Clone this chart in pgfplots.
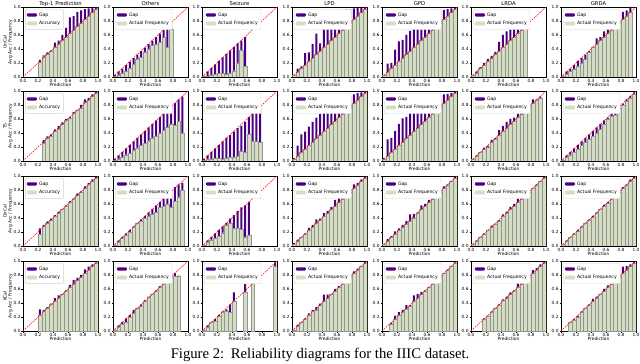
\documentclass[border=0pt]{standalone}
\usepackage{pgfplots}
\pgfplotsset{compat=1.18}
\usepackage{pgfplotstable}
\usepackage{fontspec}
\setmainfont{DejaVu Sans}
\newfontfamily\capfont{Liberation Serif}
\definecolor{gapc}{HTML}{4B0082}
\definecolor{accc}{HTML}{D4DEC0}
\newcommand{\tickf}{\fontsize{4.3}{5}\selectfont}
\newcommand{\labf}{\fontsize{4.4}{5}\selectfont}
\newcommand{\legf}{\fontsize{4.6}{5}\selectfont}
\newcommand{\titf}{\fontsize{5.3}{6}\selectfont}

% ---------- UnCal ----------
\pgfplotstableread{
x g t
0.225 0.21 0.245
0.275 0.29 0.31
0.325 0.33 0.35
0.375 0.37 0.38
0.425 0.42 0.49
0.475 0.47 0.52
0.525 0.52 0.60
0.575 0.57 0.70
0.625 0.62 0.85
0.675 0.67 0.87
0.725 0.72 0.93
0.775 0.77 0.95
0.825 0.82 0.97
0.875 0.87 0.98
0.925 0.92 0.99
0.975 0.97 1.00
}\rUa
\pgfplotstableread{
x g t
0.025 0.01 0.03
0.075 0.03 0.08
0.125 0.06 0.12
0.175 0.08 0.17
0.225 0.12 0.22
0.275 0.18 0.27
0.325 0.26 0.32
0.375 0.28 0.37
0.425 0.36 0.42
0.475 0.40 0.47
0.525 0.45 0.52
0.575 0.47 0.57
0.625 0.50 0.62
0.675 0.57 0.67
0.725 0.42 0.72
0.775 0.68 0.77
}\rUb
\pgfplotstableread{
x g t
0.025 0.005 0.02
0.075 0.01 0.08
0.125 0.03 0.13
0.175 0.04 0.18
0.225 0.05 0.23
0.275 0.05 0.28
0.325 0.04 0.33
0.375 0.06 0.38
0.425 0.09 0.43
0.475 0.20 0.48
0.525 0.38 0.52
0.575 0.15 0.57
}\rUc
\pgfplotstableread{
x g t
0.025 0.02 0.03
0.075 0.07 0.12
0.125 0.12 0.15
0.175 0.17 0.34
0.225 0.22 0.35
0.275 0.27 0.47
0.325 0.32 0.62
0.375 0.37 0.48
0.425 0.42 0.76
0.475 0.47 0.86
0.525 0.52 0.91
0.575 0.57 0.88
0.625 0.62 0.93
0.675 0.67 0.96
0.725 0.72 0.97
0.775 0.77 0.97
0.825 0.82 0.98
0.875 0.87 0.99
0.925 0.92 0.99
0.975 0.97 1.00
}\rUd
\pgfplotstableread{
x g t
0.025 0.02 0.03
0.075 0.07 0.19
0.125 0.12 0.20
0.175 0.17 0.39
0.225 0.22 0.51
0.275 0.27 0.53
0.325 0.32 0.60
0.375 0.37 0.66
0.425 0.42 0.73
0.475 0.47 0.80
0.525 0.52 0.83
0.575 0.57 0.88
0.625 0.62 0.92
0.675 0.67 0.94
0.725 0.72 0.95
0.775 0.77 0.95
0.825 0.82 0.96
0.875 0.87 0.97
0.925 0.92 0.98
0.975 0.97 0.99
}\rUe
\pgfplotstableread{
x g t
0.025 0.02 0.03
0.075 0.05 0.08
0.125 0.12 0.14
0.175 0.17 0.20
0.225 0.22 0.26
0.275 0.27 0.30
0.325 0.32 0.36
0.375 0.37 0.50
0.425 0.42 0.60
0.475 0.47 0.65
0.525 0.52 0.73
0.575 0.57 0.80
0.625 0.62 0.88
0.675 0.67 0.88
0.725 0.72 0.74
}\rUf
\pgfplotstableread{
x g t
0.025 0.01 0.02
0.075 0.04 0.08
0.125 0.08 0.12
0.175 0.11 0.17
0.225 0.15 0.23
0.275 0.20 0.27
0.325 0.25 0.32
0.375 0.35 0.37
0.425 0.42 0.43
0.475 0.47 0.55
0.525 0.52 0.57
0.575 0.57 0.65
0.625 0.62 0.78
0.675 0.67 0.80
0.725 0.72 0.84
0.775 0.77 0.80
0.825 0.82 0.93
0.875 0.87 0.95
0.925 0.92 1.00
}\rUg
% ---------- TS ----------
\pgfplotstableread{
x g t
0.275 0.25 0.30
0.325 0.33 0.35
0.375 0.36 0.38
0.425 0.42 0.45
0.475 0.46 0.50
0.525 0.52 0.55
0.575 0.58 0.60
0.625 0.61 0.63
0.675 0.68 0.70
0.725 0.72 0.73
0.775 0.76 0.80
0.825 0.84 0.88
0.875 0.87 0.90
0.925 0.93 0.95
0.975 0.97 0.99
}\rTa
\pgfplotstableread{
x g t
0.025 0.01 0.03
0.075 0.03 0.08
0.125 0.06 0.13
0.175 0.09 0.18
0.225 0.11 0.23
0.275 0.15 0.28
0.325 0.19 0.33
0.375 0.22 0.38
0.425 0.25 0.43
0.475 0.29 0.48
0.525 0.33 0.53
0.575 0.36 0.58
0.625 0.40 0.63
0.675 0.44 0.68
0.725 0.48 0.73
0.775 0.52 0.78
0.825 0.51 0.83
0.875 0.57 0.88
0.925 0.40 0.92
}\rTb
\pgfplotstableread{
x g t
0.025 0.005 0.03
0.075 0.02 0.08
0.125 0.03 0.13
0.175 0.04 0.18
0.225 0.04 0.23
0.275 0.03 0.28
0.325 0.04 0.33
0.375 0.05 0.37
0.425 0.06 0.42
0.475 0.07 0.47
0.525 0.14 0.50
0.575 0.13 0.56
0.625 0.38 0.63
0.675 0.28 0.70
0.725 0.28 0.72
0.775 0.27 0.77
}\rTc
\pgfplotstableread{
x g t
0.025 0.02 0.04
0.075 0.07 0.22
0.125 0.12 0.38
0.175 0.17 0.42
0.225 0.22 0.49
0.275 0.27 0.56
0.325 0.32 0.62
0.375 0.37 0.67
0.425 0.42 0.73
0.475 0.47 0.79
0.525 0.52 0.81
0.575 0.57 0.85
0.625 0.62 0.87
0.675 0.67 0.87
0.725 0.72 0.90
0.775 0.77 0.92
0.825 0.82 0.95
0.875 0.87 0.97
0.925 0.92 0.98
0.975 0.97 1.00
}\rTd
\pgfplotstableread{
x g t
0.025 0.02 0.04
0.075 0.07 0.31
0.125 0.12 0.33
0.175 0.17 0.43
0.225 0.22 0.53
0.275 0.27 0.61
0.325 0.32 0.63
0.375 0.37 0.70
0.425 0.42 0.78
0.475 0.47 0.77
0.525 0.52 0.80
0.575 0.57 0.82
0.625 0.62 0.90
0.675 0.67 0.90
0.725 0.72 0.92
0.775 0.77 0.94
0.825 0.82 0.95
0.875 0.87 0.96
0.925 0.92 0.97
0.975 0.97 0.99
}\rTe
\pgfplotstableread{
x g t
0.025 0.02 0.03
0.075 0.07 0.08
0.125 0.12 0.13
0.175 0.17 0.19
0.225 0.20 0.22
0.275 0.27 0.30
0.325 0.31 0.33
0.375 0.37 0.44
0.425 0.42 0.50
0.475 0.47 0.56
0.525 0.52 0.60
0.575 0.57 0.62
0.625 0.62 0.68
0.675 0.67 0.72
0.725 0.72 0.74
0.775 0.77 0.80
0.825 0.82 0.88
0.875 0.87 0.88
0.925 0.90 0.92
}\rTf
\pgfplotstableread{
x g t
0.025 0.01 0.02
0.075 0.05 0.08
0.125 0.09 0.13
0.175 0.12 0.18
0.225 0.17 0.23
0.275 0.22 0.28
0.325 0.27 0.33
0.375 0.31 0.38
0.425 0.35 0.43
0.475 0.40 0.48
0.525 0.45 0.53
0.575 0.52 0.58
0.625 0.60 0.62
0.675 0.64 0.67
0.725 0.66 0.72
0.775 0.75 0.77
0.825 0.80 0.82
0.875 0.85 0.88
0.925 0.90 0.93
0.975 0.96 0.98
}\rTg
% ---------- DirCal ----------
\pgfplotstableread{
x g t
0.225 0.17 0.25
0.275 0.28 0.30
0.325 0.33 0.35
0.375 0.37 0.39
0.425 0.42 0.44
0.475 0.47 0.49
0.525 0.52 0.53
0.575 0.57 0.58
0.625 0.63 0.64
0.675 0.67 0.68
0.725 0.72 0.75
0.775 0.77 0.78
0.825 0.82 0.85
0.875 0.88 0.90
0.925 0.93 0.95
0.975 0.97 0.99
}\rDa
\pgfplotstableread{
x g t
0.025 0.01 0.02
0.075 0.06 0.08
0.125 0.11 0.13
0.175 0.16 0.18
0.225 0.20 0.23
0.275 0.27 0.28
0.325 0.32 0.33
0.375 0.35 0.38
0.425 0.40 0.43
0.475 0.43 0.48
0.525 0.45 0.53
0.575 0.48 0.58
0.625 0.55 0.63
0.675 0.57 0.69
0.725 0.60 0.73
0.775 0.55 0.78
0.825 0.64 0.84
0.875 0.70 0.88
0.925 0.80 0.90
}\rDb
\pgfplotstableread{
x g t
0.025 0.01 0.02
0.075 0.06 0.08
0.125 0.09 0.13
0.175 0.11 0.18
0.225 0.14 0.23
0.275 0.19 0.28
0.325 0.30 0.33
0.375 0.33 0.39
0.425 0.25 0.44
0.475 0.26 0.50
0.525 0.24 0.55
0.575 0.13 0.58
0.625 0.16 0.63
}\rDc
\pgfplotstableread{
x g t
0.025 0.02 0.04
0.075 0.07 0.09
0.125 0.12 0.13
0.175 0.17 0.18
0.225 0.22 0.26
0.275 0.27 0.30
0.325 0.32 0.38
0.375 0.37 0.39
0.425 0.42 0.47
0.475 0.47 0.50
0.525 0.52 0.56
0.575 0.57 0.66
0.625 0.62 0.76
0.675 0.67 0.80
0.725 0.72 0.77
0.775 0.77 0.82
0.825 0.82 0.88
0.875 0.87 0.90
0.925 0.92 0.95
0.975 0.97 0.99
}\rDd
\pgfplotstableread{
x g t
0.025 0.02 0.03
0.075 0.07 0.10
0.125 0.12 0.14
0.175 0.17 0.21
0.225 0.22 0.25
0.275 0.27 0.30
0.325 0.31 0.36
0.375 0.35 0.45
0.425 0.40 0.46
0.475 0.47 0.48
0.525 0.52 0.58
0.575 0.57 0.60
0.625 0.62 0.66
0.675 0.67 0.70
0.725 0.72 0.75
0.775 0.77 0.80
0.825 0.82 0.85
0.875 0.87 0.88
0.925 0.92 0.93
0.975 0.97 0.99
}\rDe
\pgfplotstableread{
x g t
0.025 0.02 0.03
0.075 0.07 0.08
0.125 0.12 0.13
0.175 0.17 0.18
0.225 0.22 0.23
0.275 0.27 0.29
0.325 0.31 0.32
0.375 0.36 0.37
0.425 0.43 0.45
0.475 0.47 0.49
0.525 0.52 0.56
0.575 0.57 0.60
0.625 0.62 0.68
0.675 0.67 0.75
0.725 0.72 0.78
0.775 0.77 0.79
0.825 0.82 0.83
0.875 0.87 0.88
0.925 0.92 0.93
0.975 0.97 0.99
}\rDf
\pgfplotstableread{
x g t
0.025 0.02 0.03
0.075 0.07 0.08
0.125 0.12 0.13
0.175 0.17 0.18
0.225 0.21 0.23
0.275 0.27 0.28
0.325 0.32 0.33
0.375 0.37 0.38
0.425 0.41 0.43
0.475 0.47 0.48
0.525 0.52 0.53
0.575 0.57 0.59
0.625 0.61 0.63
0.675 0.67 0.68
0.725 0.72 0.73
0.775 0.77 0.78
0.825 0.82 0.84
0.875 0.87 0.88
0.925 0.92 0.95
0.975 0.97 0.99
}\rDg
% ---------- KCal ----------
\pgfplotstableread{
x g t
0.225 0.23 0.31
0.275 0.28 0.30
0.325 0.33 0.34
0.375 0.38 0.39
0.425 0.42 0.47
0.475 0.47 0.51
0.525 0.52 0.53
0.575 0.57 0.58
0.625 0.62 0.66
0.675 0.67 0.73
0.725 0.72 0.76
0.775 0.77 0.80
0.825 0.82 0.88
0.875 0.87 0.92
0.925 0.92 0.95
0.975 0.97 0.98
}\rKa
\pgfplotstableread{
x g t
0.025 0.01 0.02
0.075 0.06 0.08
0.125 0.10 0.13
0.175 0.12 0.18
0.225 0.20 0.23
0.275 0.25 0.30
0.325 0.32 0.33
0.375 0.36 0.38
0.425 0.43 0.44
0.475 0.48 0.49
0.525 0.52 0.53
0.575 0.57 0.58
0.625 0.63 0.64
0.675 0.67 0.68
0.725 0.72 0.73
0.775 0.77 0.84
0.825 0.78 0.83
0.875 0.79 0.79
}\rKb
\pgfplotstableread{
x g t
0.025 0.01 0.02
0.075 0.06 0.08
0.125 0.12 0.13
0.175 0.14 0.17
0.225 0.21 0.23
0.275 0.27 0.28
0.325 0.28 0.31
0.375 0.27 0.38
0.425 0.43 0.55
0.575 0.56 0.67
0.675 0.70 0.72
0.975 0.93 0.98
}\rKc
\pgfplotstableread{
x g t
0.025 0.01 0.02
0.075 0.07 0.09
0.125 0.12 0.13
0.175 0.17 0.18
0.225 0.23 0.25
0.275 0.28 0.30
0.325 0.30 0.34
0.375 0.37 0.39
0.425 0.42 0.52
0.475 0.47 0.52
0.525 0.52 0.53
0.575 0.57 0.60
0.625 0.62 0.64
0.675 0.67 0.69
0.725 0.72 0.75
0.775 0.77 0.80
0.825 0.82 0.85
0.875 0.87 0.89
0.925 0.92 0.93
0.975 0.97 0.99
}\rKd
\pgfplotstableread{
x g t
0.125 0.10 0.12
0.175 0.17 0.22
0.225 0.22 0.27
0.275 0.27 0.30
0.325 0.31 0.37
0.375 0.35 0.37
0.425 0.42 0.51
0.475 0.47 0.53
0.525 0.52 0.56
0.575 0.57 0.58
0.625 0.62 0.63
0.675 0.67 0.68
0.725 0.72 0.73
0.775 0.77 0.78
0.825 0.82 0.83
0.875 0.87 0.88
0.925 0.92 0.93
0.975 0.97 0.98
}\rKe
\pgfplotstableread{
x g t
0.175 0.17 0.18
0.225 0.21 0.22
0.275 0.27 0.28
0.325 0.32 0.33
0.375 0.37 0.38
0.425 0.44 0.45
0.475 0.47 0.49
0.525 0.52 0.55
0.575 0.57 0.58
0.625 0.62 0.70
0.675 0.67 0.75
0.725 0.72 0.80
0.775 0.77 0.82
0.825 0.82 0.87
0.875 0.87 0.90
0.925 0.92 0.95
0.975 0.97 0.99
}\rKf
\pgfplotstableread{
x g t
0.125 0.12 0.13
0.175 0.16 0.17
0.225 0.20 0.22
0.275 0.27 0.28
0.325 0.32 0.33
0.375 0.37 0.38
0.425 0.42 0.46
0.475 0.47 0.49
0.525 0.52 0.53
0.575 0.57 0.60
0.625 0.62 0.65
0.675 0.67 0.68
0.725 0.72 0.76
0.775 0.77 0.79
0.825 0.82 0.92
0.875 0.87 0.93
0.925 0.92 0.95
0.975 0.97 0.99
}\rKg

\pgfplotsset{
 cellstyle/.style={scale only axis, width=75pt, height=70pt, anchor=south west,
   xmin=0,xmax=1,ymin=0,ymax=1,
   xtick={0,0.2,0.4,0.6,0.8,1}, ytick={0,0.2,0.4,0.6,0.8,1},
   xticklabels={0.0,0.2,0.4,0.6,0.8,1.0}, yticklabels={0.0,0.2,0.4,0.6,0.8,1.0},
   tick label style={font=\tickf},
   xticklabel style={inner sep=0.8pt},
   yticklabel style={inner sep=0.8pt},
   tick pos=left, tick align=outside, major tick length=1.5pt,
   every tick/.style={black, line width=0.4pt},
   axis line style={line width=0.5pt},
   xlabel={Prediction}, xlabel style={font=\labf, inner sep=0pt, yshift=0.8pt},
   ylabel style={font=\labf, align=center, inner sep=0pt},
   legend style={at={(0.03,0.97)}, anchor=north west, font=\legf, draw=gray!35,
     rounded corners=1pt, inner xsep=1.3pt, inner ysep=1.4pt, row sep=-0.3pt},
   legend cell align=left,
 },
 gapbar/.style={ybar, bar width=0.027, bar shift=0pt, fill=gapc, draw=none,
   legend image code/.code={\fill[gapc] (0pt,-1.4pt) rectangle (10pt,1.9pt);}},
 accbar/.style={ybar, bar width=0.05, bar shift=0pt, fill=accc, draw=gray!85, line width=0.35pt,
   legend image code/.code={\fill[accc] (0pt,-1.4pt) rectangle (10pt,1.9pt);}},
 diag/.style={red, line width=0.55pt, dash pattern=on 1.6pt off 1pt, forget plot},
 toptitle/.style={title={#1}, title style={font=\titf, anchor=base, yshift=-4.3pt, inner sep=0pt}},
}

\newcommand{\cell}[5]{%
\begin{axis}[cellstyle, at={(#1pt,#2pt)}, #5]
\addplot[gapbar] table[x=x,y=t]{#3};
\addplot[accbar] table[x=x,y=g]{#3};
\addplot[diag] coordinates {(0,0) (1,1)};
\legend{Gap,#4}
\end{axis}}

\begin{document}
\begin{tikzpicture}
\useasboundingbox (0,0) rectangle (640pt,364pt);
% row 1
\cell{23}{287}{\rUa}{Accuracy}{toptitle={Top-1 Prediction}, ylabel={UnCal\\Avg Acc / Frequency}}
\cell{113}{287}{\rUb}{Actual Frequency}{toptitle={Others}}
\cell{202}{287}{\rUc}{Actual Frequency}{toptitle={Seizure}}
\cell{292}{287}{\rUd}{Actual Frequency}{toptitle={LPD}}
\cell{382}{287}{\rUe}{Actual Frequency}{toptitle={GPD}}
\cell{471}{287}{\rUf}{Actual Frequency}{toptitle={LRDA}}
\cell{561}{287}{\rUg}{Actual Frequency}{toptitle={GRDA}}
% row 2
\cell{23}{203}{\rTa}{Accuracy}{ylabel={TS\\Avg Acc / Frequency}}
\cell{113}{203}{\rTb}{Actual Frequency}{}
\cell{202}{203}{\rTc}{Actual Frequency}{}
\cell{292}{203}{\rTd}{Actual Frequency}{}
\cell{382}{203}{\rTe}{Actual Frequency}{}
\cell{471}{203}{\rTf}{Actual Frequency}{}
\cell{561}{203}{\rTg}{Actual Frequency}{}
% row 3
\cell{23}{118}{\rDa}{Accuracy}{ylabel={DirCal\\Avg Acc / Frequency}}
\cell{113}{118}{\rDb}{Actual Frequency}{}
\cell{202}{118}{\rDc}{Actual Frequency}{}
\cell{292}{118}{\rDd}{Actual Frequency}{}
\cell{382}{118}{\rDe}{Actual Frequency}{}
\cell{471}{118}{\rDf}{Actual Frequency}{}
\cell{561}{118}{\rDg}{Actual Frequency}{}
% row 4
\cell{23}{33}{\rKa}{Accuracy}{ylabel={KCal\\Avg Acc / Frequency}}
\cell{113}{33}{\rKb}{Actual Frequency}{}
\cell{202}{33}{\rKc}{Actual Frequency}{}
\cell{292}{33}{\rKd}{Actual Frequency}{}
\cell{382}{33}{\rKe}{Actual Frequency}{}
\cell{471}{33}{\rKf}{Actual Frequency}{}
\cell{561}{33}{\rKg}{Actual Frequency}{}
\node[anchor=base, font={\capfont\fontsize{14.7}{16}\selectfont}] at (320pt,5pt) {Figure 2:\hspace{0.45em}Reliability diagrams for the IIIC dataset.};
\end{tikzpicture}
\end{document}
